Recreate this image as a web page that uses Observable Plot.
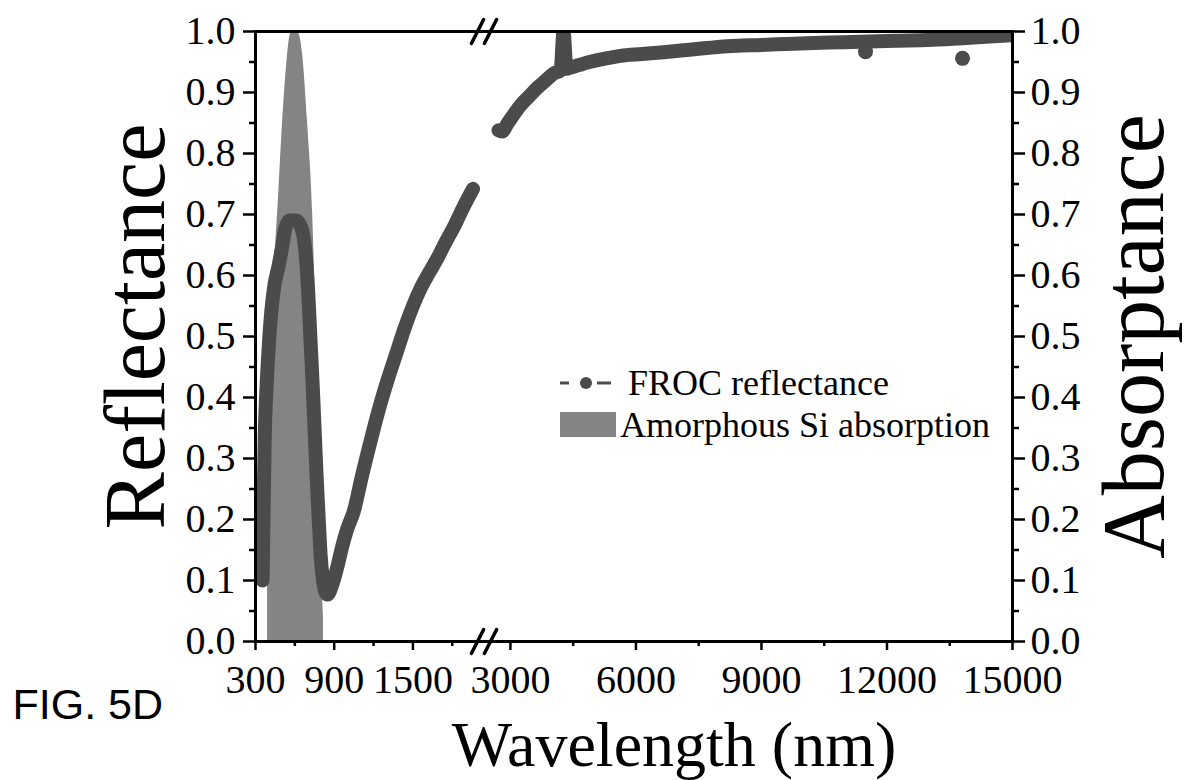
<!DOCTYPE html>
<html>
<head>
<meta charset="utf-8">
<script src="https://cdn.jsdelivr.net/npm/d3@7"></script>
<script src="https://cdn.jsdelivr.net/npm/@observablehq/plot@0.6"></script>
<style>
  body { margin: 0; background: #fff; }
  #chart { position: relative; width: 1193px; height: 780px; }
</style>
</head>
<body>
<div id="chart"></div>
<script>
// FROC reflectance, short-wavelength part (nm, reflectance)
const reflShortNm = [354, 362, 370, 385, 400, 420, 445, 475, 506, 525, 560, 610, 650, 680, 700, 718, 736, 752, 766, 782, 797, 815, 835, 850, 880, 927, 960, 1000, 1049, 1110, 1179, 1240, 1309, 1370, 1431, 1500, 1561, 1625, 1691, 1750, 1813, 1880, 1958];
const reflShortR  = [0.10, 0.22, 0.33, 0.42, 0.48, 0.54, 0.585, 0.615, 0.65, 0.675, 0.69, 0.69, 0.678, 0.64, 0.58, 0.50, 0.42, 0.34, 0.27, 0.20, 0.14, 0.10, 0.08, 0.077, 0.09, 0.125, 0.155, 0.185, 0.213, 0.27, 0.33, 0.38, 0.43, 0.47, 0.51, 0.55, 0.58, 0.605, 0.63, 0.655, 0.68, 0.71, 0.742];

// FROC reflectance, infrared part (nm, reflectance)
const reflLongNm = [2715, 2800, 2930, 3080, 3241, 3450, 3647, 3850, 4030, 4200, 4269, 4340, 4436, 4640, 4842, 5230, 5631, 6150, 6659, 7400, 8188, 9000, 9766, 10600, 11367, 12200, 12968, 13800, 14546, 15000];
const reflLongR  = [0.838, 0.836, 0.849, 0.864, 0.879, 0.894, 0.908, 0.92, 0.931, 0.936, 1.0, 0.939, 0.941, 0.945, 0.949, 0.955, 0.960, 0.963, 0.966, 0.971, 0.976, 0.978, 0.980, 0.982, 0.983, 0.985, 0.986, 0.989, 0.992, 0.994];

// isolated reflectance readings below the curve
const reflSpotNm = [11487, 13805];
const reflSpotR  = [0.967, 0.956];

// amorphous Si absorption band (nm, absorptance)
const absNm = [392, 396, 405, 415, 440, 468, 506, 545, 560, 575, 620, 640, 659, 697, 736, 759, 775, 790, 803, 812, 818];
const absA  = [0.40, 0.46, 0.50, 0.53, 0.61, 0.70, 0.85, 0.963, 0.99, 1.0, 1.0, 0.99, 0.963, 0.85, 0.70, 0.53, 0.40, 0.27, 0.15, 0.07, 0.04];

// broken wavelength axis: two linear pieces joined at the break
const xPieceDomain = [300, 2000, 2500, 15000];
const xBreakNm = 2250;

// tick values
const xTicks = [300, 900, 1500, 3000, 6000, 9000, 12000, 15000];
const xMinorTicks = [600, 1200, 1800, 4500, 7500, 10500, 13500];
const yTicks = [0, 0.1, 0.2, 0.3, 0.4, 0.5, 0.6, 0.7, 0.8, 0.9, 1.0];
const yMinorTicks = [0.05, 0.15, 0.25, 0.35, 0.45, 0.55, 0.65, 0.75, 0.85, 0.95];

const W = 1193, H = 780;
const mL = 255, mR = 181, mT = 31, mB = 139;
const serif = "'Liberation Serif', 'Times New Roman', serif";

const reflRows = [
  ...reflShortNm.map((nm, i) => ({nm, r: reflShortR[i], part: "short"})),
  ...reflLongNm.map((nm, i) => ({nm, r: reflLongR[i], part: "long"}))
];
const spotRows = reflSpotNm.map((nm, i) => ({nm, r: reflSpotR[i]}));
const absRows = absNm.map((nm, i) => ({nm, a: absA[i]}));

const lineColor = "#4b4b4b";
const fillColor = "#848484";

// a plain straight stroke, used for the "//" break symbols
const slash = {
  draw(context, l) {
    context.moveTo(0, 0);
    context.lineTo(0, -l);
  }
};
const breakMark = (dx) => Plot.vector([0, 1], {
  x: () => xBreakNm, y: d => d, length: 27, rotate: 27, anchor: "middle",
  shape: slash, stroke: "#000", strokeWidth: 3.5, dx
});

const chart = Plot.plot({
  width: W,
  height: H,
  marginLeft: mL,
  marginRight: mR,
  marginTop: mT,
  marginBottom: mB,
  style: {fontFamily: serif, background: "#fff", color: "#000"},
  x: {type: "linear", domain: xPieceDomain, range: [mL, 478, 489, W - mR]},
  y: {domain: [0, 1]},
  marks: [
    Plot.areaY(absRows, {x: "nm", y: "a", fill: fillColor, curve: "monotone-x", clip: true}),
    Plot.line(reflRows, {x: "nm", y: "r", z: "part", stroke: lineColor, strokeWidth: 14,
      strokeLinejoin: "round", strokeLinecap: "round", curve: "monotone-x", clip: true}),
    Plot.dot(spotRows, {x: "nm", y: "r", r: 7.5, fill: lineColor}),
    Plot.frame({stroke: "#000", strokeWidth: 3}),
    // bottom axis
    Plot.axisX(xTicks, {anchor: "bottom", tickSize: 9, tickPadding: 14, fontSize: 40,
      strokeWidth: 2.5, tickFormat: d => String(d), label: null}),
    Plot.axisX(xMinorTicks, {anchor: "bottom", tickSize: 5, strokeWidth: 2.5, tickFormat: () => "", label: null}),
    // left axis: reflectance
    Plot.axisY(yTicks, {anchor: "left", tickSize: 12, tickPadding: 8, fontSize: 40,
      strokeWidth: 2.5, tickFormat: d3.format(".1f"), label: null}),
    Plot.axisY(yMinorTicks, {anchor: "left", tickSize: 6, strokeWidth: 2.5, tickFormat: () => "", label: null}),
    // right axis: absorptance
    Plot.axisY(yTicks, {anchor: "right", tickSize: 12, tickPadding: 6, fontSize: 40,
      strokeWidth: 2.5, tickFormat: d3.format(".1f"), label: null}),
    Plot.axisY(yMinorTicks, {anchor: "right", tickSize: 6, strokeWidth: 2.5, tickFormat: () => "", label: null}),
    // axis break symbols on the top and bottom edges
    breakMark(-6.5),
    breakMark(6.5),
    // axis titles
    Plot.text(["Reflectance"], {frameAnchor: "left", text: d => d, rotate: -90, dx: -92, dy: -10,
      textAnchor: "middle", lineAnchor: "bottom", fontSize: 86, fill: "#000"}),
    Plot.text(["Absorptance"], {frameAnchor: "right", text: d => d, rotate: -90, dx: 150,
      textAnchor: "middle", lineAnchor: "bottom", fontSize: 88, fill: "#000"}),
    Plot.text(["Wavelength (nm)"], {frameAnchor: "bottom", text: d => d, dx: 40, dy: 124,
      textAnchor: "middle", lineAnchor: "bottom", fontSize: 64, fill: "#000"}),
    Plot.text(["FIG. 5D"], {frameAnchor: "bottom-left", text: d => d, dx: -243, dy: 77,
      textAnchor: "start", lineAnchor: "bottom", fontSize: 43, fill: "#000",
      fontFamily: "'Liberation Sans', Arial, sans-serif"})
  ]
});

document.getElementById("chart").appendChild(chart);

// legend inside the plotting area
const svg = d3.select(chart);
const lg = svg.append("g")
  .attr("font-family", serif).attr("font-size", 36).attr("fill", "#000").attr("text-anchor", "start");
const row1 = lg.append("g").attr("transform", "translate(560,383)");
row1.append("line").attr("x1", 0).attr("x2", 9).attr("stroke", lineColor).attr("stroke-width", 3);
row1.append("line").attr("x1", 37).attr("x2", 51).attr("stroke", lineColor).attr("stroke-width", 3);
row1.append("circle").attr("cx", 26).attr("r", 6).attr("fill", lineColor);
row1.append("text").attr("x", 68).attr("y", 12).text("FROC reflectance");
const row2 = lg.append("g").attr("transform", "translate(560,425)");
row2.append("rect").attr("x", 0).attr("y", -13).attr("width", 56).attr("height", 25).attr("fill", fillColor);
row2.append("text").attr("x", 60).attr("y", 12).text("Amorphous Si absorption");
</script>
</body>
</html>
